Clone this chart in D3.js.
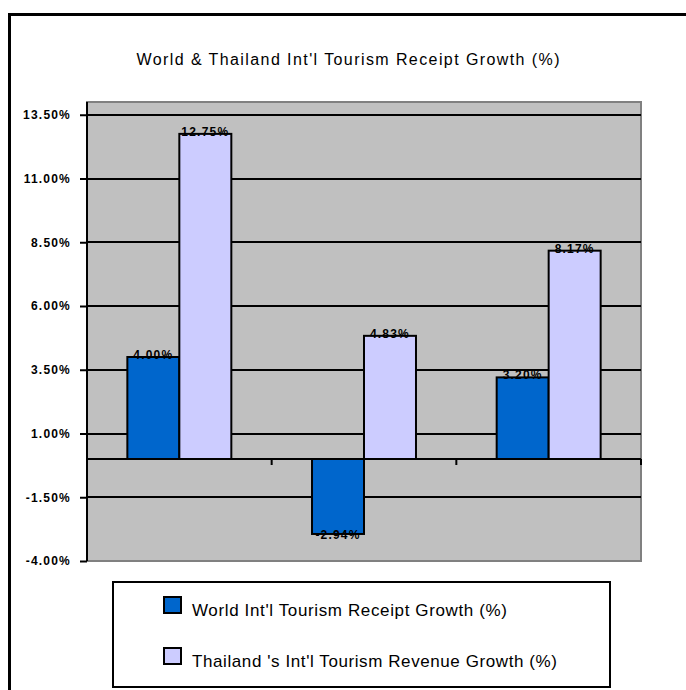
<!DOCTYPE html>
<html>
<head>
<meta charset="utf-8">
<script src="https://cdn.jsdelivr.net/npm/d3@7"></script>
<style>
  html, body { margin: 0; padding: 0; background: #fff; }
  svg { display: block; }
</style>
</head>
<body>
<div id="chart"></div>
<script>
// chart data
var categories = ["Group 1", "Group 2", "Group 3"];
var seriesNames = ["World Int'l Tourism Receipt Growth (%)", "Thailand 's Int'l Tourism Revenue Growth (%)"];
var worldGrowth = [4.00, -2.94, 3.20];
var thaiGrowth = [12.75, 4.83, 8.17];
var tickValues = [-4.00, -1.50, 1.00, 3.50, 6.00, 8.50, 11.00, 13.50];
var colors = ["#0066cc", "#ccccff"];

var width = 686, height = 690;
var plot = { left: 87, right: 641, top: 102, bottom: 561 };

var svg = d3.select("#chart")
    .append("svg")
    .attr("width", width)
    .attr("height", height);

// outer chart frame (runs off the picture on the right and bottom)
svg.append("path")
    .attr("d", "M9.5," + (height + 5) + " V14.5 H" + (width + 5))
    .attr("fill", "none")
    .attr("stroke", "#000")
    .attr("stroke-width", 3);

svg.append("text")
    .attr("x", 348)
    .attr("y", 65)
    .attr("text-anchor", "middle")
    .attr("textLength", 423)
    .attr("lengthAdjust", "spacing")
    .style("font-family", "'Liberation Sans', Arial, sans-serif")
    .style("font-size", "16px")
    .text("World & Thailand Int'l Tourism Receipt Growth (%)");

var y = d3.scaleLinear()
    .domain([-4, 14])
    .range([plot.bottom, plot.top]);

var x = d3.scaleBand()
    .domain(categories)
    .range([plot.left, plot.right])
    .paddingInner(0);

var xSub = d3.scaleBand()
    .domain([0, 1])
    .range([0, x.bandwidth()])
    .paddingInner(0)
    .paddingOuter(0.776);

// plot area
svg.append("rect")
    .attr("x", plot.left)
    .attr("y", plot.top)
    .attr("width", plot.right - plot.left)
    .attr("height", plot.bottom - plot.top)
    .attr("fill", "#c0c0c0")
    .attr("stroke", "#808080")
    .attr("stroke-width", 2);

// gridlines
svg.selectAll(".grid")
    .data(tickValues.filter(function (d) { return d > -4; }))
    .enter()
    .append("line")
    .attr("x1", plot.left)
    .attr("x2", plot.right)
    .attr("y1", function (d) { return Math.round(y(d)); })
    .attr("y2", function (d) { return Math.round(y(d)); })
    .attr("stroke", "#000")
    .attr("stroke-width", 2);

// y axis
var yAxis = d3.axisLeft(y)
    .tickValues(tickValues)
    .tickSize(7)
    .tickPadding(9)
    .tickFormat(function (d) { return d.toFixed(2) + "%"; });

var gy = svg.append("g")
    .attr("transform", "translate(" + plot.left + ",0)")
    .call(yAxis);
gy.select(".domain").remove();
gy.selectAll(".tick line").attr("stroke", "#000").attr("stroke-width", 2);
gy.selectAll(".tick text")
    .attr("fill", "#000")
    .style("font-family", "Arial, 'Liberation Sans', sans-serif")
    .style("font-size", "12px")
    .style("font-weight", "bold")
    .style("letter-spacing", "1.2px");

// bars
var rows = categories.map(function (c, i) {
    return { cat: c, values: [worldGrowth[i], thaiGrowth[i]] };
});

var groups = svg.selectAll(".grp")
    .data(rows)
    .enter()
    .append("g")
    .attr("transform", function (d) { return "translate(" + x(d.cat) + ",0)"; });

groups.selectAll("rect")
    .data(function (d) { return d.values; })
    .enter()
    .append("rect")
    .attr("x", function (d, i) { return xSub(i); })
    .attr("width", xSub.bandwidth())
    .attr("y", function (d) { return y(Math.max(0, d)); })
    .attr("height", function (d) { return Math.abs(y(d) - y(0)); })
    .attr("fill", function (d, i) { return colors[i]; })
    .attr("stroke", "#000")
    .attr("stroke-width", 2);

// x axis line at zero with category ticks
svg.append("line")
    .attr("x1", plot.left)
    .attr("x2", plot.right)
    .attr("y1", y(0))
    .attr("y2", y(0))
    .attr("stroke", "#000")
    .attr("stroke-width", 2);

svg.selectAll(".xtick")
    .data(categories)
    .enter()
    .append("line")
    .attr("x1", function (d) { return x(d) + x.bandwidth(); })
    .attr("x2", function (d) { return x(d) + x.bandwidth(); })
    .attr("y1", y(0))
    .attr("y2", y(0) + 6)
    .attr("stroke", "#000")
    .attr("stroke-width", 2);

// y axis line
svg.append("line")
    .attr("x1", plot.left)
    .attr("x2", plot.left)
    .attr("y1", plot.top)
    .attr("y2", plot.bottom)
    .attr("stroke", "#000")
    .attr("stroke-width", 2);

// value labels
groups.selectAll("text")
    .data(function (d) { return d.values; })
    .enter()
    .append("text")
    .attr("x", function (d, i) { return xSub(i) + xSub.bandwidth() / 2; })
    .attr("y", function (d) { return d >= 0 ? y(d) + 2 : y(d) + 5; })
    .attr("text-anchor", "middle")
    .style("font-family", "Arial, 'Liberation Sans', sans-serif")
    .style("font-size", "12px")
    .style("font-weight", "bold")
    .style("letter-spacing", "1.2px")
    .text(function (d) { return d.toFixed(2) + "%"; });

// legend
var legend = svg.append("g");
legend.append("rect")
    .attr("x", 113)
    .attr("y", 582)
    .attr("width", 497)
    .attr("height", 105)
    .attr("fill", "#fff")
    .attr("stroke", "#000")
    .attr("stroke-width", 2);

var legendLengths = [315, 365];
var items = legend.selectAll(".item")
    .data(seriesNames)
    .enter()
    .append("g")
    .attr("transform", function (d, i) { return "translate(0," + (i * 51) + ")"; });

items.append("rect")
    .attr("x", 164)
    .attr("y", 597)
    .attr("width", 17)
    .attr("height", 16)
    .attr("fill", function (d, i) { return colors[i]; })
    .attr("stroke", "#000")
    .attr("stroke-width", 2);

items.append("text")
    .attr("x", 192)
    .attr("y", 616)
    .attr("textLength", function (d, i) { return legendLengths[i]; })
    .attr("lengthAdjust", "spacing")
    .style("font-family", "'Liberation Sans', Arial, sans-serif")
    .style("font-size", "17px")
    .text(function (d) { return d; });
</script>
</body>
</html>
